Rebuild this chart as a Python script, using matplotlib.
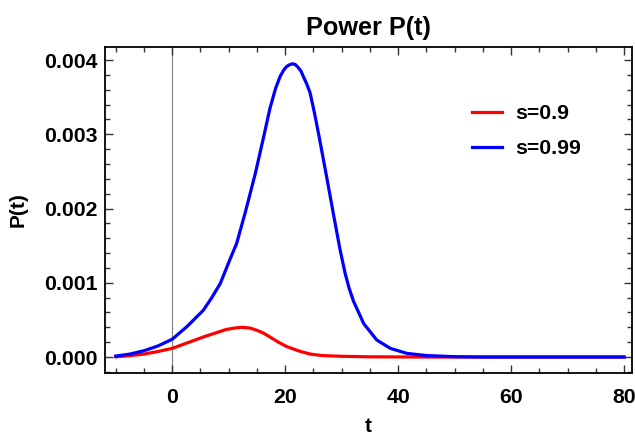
import matplotlib
matplotlib.use('Agg')
import matplotlib.pyplot as plt
from matplotlib.ticker import MultipleLocator, FormatStrFormatter

plt.rcParams['font.family'] = ['Liberation Sans', 'DejaVu Sans']
plt.rcParams['font.weight'] = 'bold'

# values
t_s99 = [-10, -7.5, -5, -2.5, 0, 2.6, 5.5, 7, 8.5, 10.3, 11.4, 12.9, 14.7, 16.05,
         17.3, 18.3, 19.1, 19.7, 20.2, 20.7, 21.3, 21.8, 22.3, 22.8, 23.2, 23.8,
         24.4, 25.2, 26.0, 27.4, 28.6, 29.7, 30.6, 31.3, 32.1, 33.9, 36.2, 38.6,
         41.5, 45, 50, 55, 80]
p_s99 = [0.000013, 0.00004, 0.000085, 0.00015, 0.00024, 0.00041, 0.00063, 0.0008,
         0.00099, 0.00133, 0.00153, 0.00194, 0.00247, 0.00292, 0.00335, 0.00362,
         0.00378, 0.00386, 0.00391, 0.003935, 0.00395, 0.00394, 0.0039, 0.00385,
         0.00378, 0.00368, 0.00356, 0.00328, 0.00297, 0.00240, 0.0019, 0.00145,
         0.00113, 0.00093, 0.00075, 0.00045, 0.00023, 0.000117, 0.00005, 0.00002,
         0.000005, 0.0, 0.0]

t_s9 = [-10, -7.5, -5, -2.5, 0, 3, 5.5, 7.5, 9.5, 11, 12.3, 13.8, 15, 16.2, 17.3,
        18.8, 20.3, 22.5, 24.4, 26.5, 30, 35, 45, 80]
p_s9 = [0.000003, 0.000018, 0.00004, 0.000075, 0.000117, 0.0002, 0.00027, 0.00032,
        0.00037, 0.00039, 0.0004, 0.00039, 0.00036, 0.00032, 0.00027, 0.0002,
        0.00014, 0.00008, 0.00004, 0.00002, 0.00001, 0.000003, 0.0, 0.0]

labels = ['s=0.9', 's=0.99']
colors = ['#ff0000', '#0000ff']

fig = plt.figure(figsize=(6.35, 4.36), dpi=100)
ax = fig.add_axes([0.1654, 0.1445, 0.8299, 0.7475])

ax.axvline(0, color='#888888', lw=0.9, zorder=1)
ax.plot(t_s9, p_s9, color=colors[0], lw=2.3, label=labels[0], zorder=3,
        solid_joinstyle='round')
ax.plot(t_s99, p_s99, color=colors[1], lw=2.3, label=labels[1], zorder=3,
        solid_joinstyle='round')

ax.set_xlim(-11.9, 81.4)
ax.set_ylim(-0.000215, 0.004175)

ax.xaxis.set_major_locator(MultipleLocator(20))
ax.xaxis.set_minor_locator(MultipleLocator(5))
ax.yaxis.set_major_locator(MultipleLocator(0.001))
ax.yaxis.set_minor_locator(MultipleLocator(0.0002))
ax.yaxis.set_major_formatter(FormatStrFormatter('%.3f'))

ax.tick_params(which='both', direction='in', top=True, right=True,
               labelsize=15.3, width=1, color='#333333')
ax.tick_params(which='major', length=6)
ax.tick_params(which='minor', length=3.5)
ax.tick_params(axis='x', which='major', pad=11)
ax.tick_params(axis='y', which='major', pad=5)
for lab in ax.get_xticklabels() + ax.get_yticklabels():
    lab.set_fontweight('bold')
for sp in ax.spines.values():
    sp.set_linewidth(1.3)

ax.set_title('Power P(t)', fontsize=18.2, fontweight='bold', pad=9)
ax.set_xlabel('t', fontsize=15, fontweight='bold', labelpad=7)
ax.set_ylabel('P(t)', fontsize=15, fontweight='bold', labelpad=12.5)

ax.legend(loc='upper left', bbox_to_anchor=(0.66, 0.883), frameon=False,
          handlelength=1.4, handletextpad=0.65, labelspacing=0.75,
          prop={'weight': 'bold', 'size': 15.3})

fig.savefig('out.png', dpi=100)
